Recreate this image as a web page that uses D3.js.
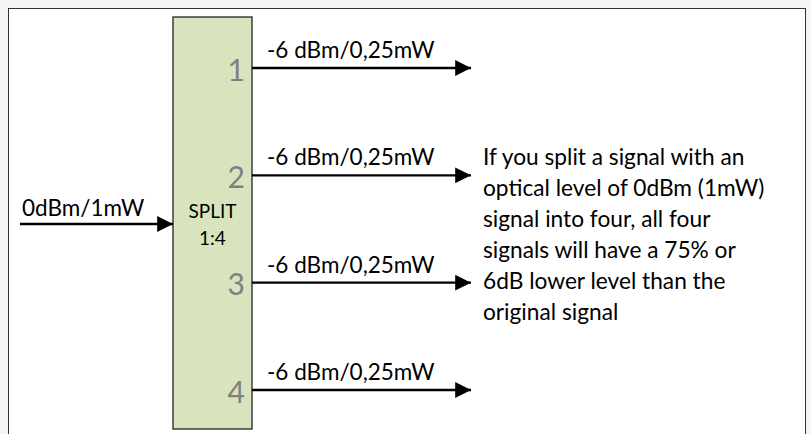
<!DOCTYPE html>
<html>
<head>
<meta charset="utf-8">
<script src="https://cdn.jsdelivr.net/npm/d3@7"></script>
<style>
  body { margin: 0; background: #f4f4f4; }
  text { font-family: Lato, "Open Sans", sans-serif; }
</style>
</head>
<body>
<script>
var ports = [1, 2, 3, 4];
var outLabels = ['-6 dBm/0,25mW', '-6 dBm/0,25mW', '-6 dBm/0,25mW', '-6 dBm/0,25mW'];
var inLabel = '0dBm/1mW';
var splitLabel = ['SPLIT', '1:4'];
var note = ['If you split a signal with an', 'optical level of 0dBm (1mW)', 'signal into four, all four',
            'signals will have a 75% or', '6dB lower level than the', 'original signal'];

var W = 811, H = 434;

var svg = d3.select('body').append('svg')
  .attr('width', W)
  .attr('height', H);

svg.append('defs').append('marker')
  .attr('id', 'arr')
  .attr('viewBox', '0 0 10 10')
  .attr('refX', 10).attr('refY', 5)
  .attr('markerWidth', 9.5).attr('markerHeight', 6.6)
  .attr('markerUnits', 'strokeWidth')
  .attr('orient', 'auto')
  .append('path').attr('d', 'M0,0L10,5L0,10Z').attr('fill', '#000');

// frame
svg.append('rect')
  .attr('x', 8.5).attr('y', 8.5)
  .attr('width', 797).attr('height', 440)
  .attr('fill', '#fff').attr('stroke', '#333').attr('stroke-width', 1);

var y = d3.scalePoint().domain(ports).range([68, 390]);
var box = {x0: 173, x1: 252, y0: 17, y1: 429};

svg.append('rect')
  .attr('x', box.x0).attr('y', box.y0)
  .attr('width', box.x1 - box.x0).attr('height', box.y1 - box.y0)
  .attr('fill', '#d7e4bd').attr('stroke', '#222').attr('stroke-width', 1.3);

// input
svg.append('line')
  .attr('x1', 20).attr('x2', box.x0)
  .attr('y1', 224).attr('y2', 224)
  .attr('stroke', '#000').attr('stroke-width', 2.4)
  .attr('marker-end', 'url(#arr)');
svg.append('text').attr('x', 22).attr('y', 216)
  .attr('font-size', 22.5).text(inLabel);

svg.selectAll('.split').data(splitLabel).enter().append('text')
  .attr('x', (box.x0 + box.x1) / 2)
  .attr('y', function(d, i){ return 218 + i * 27; })
  .attr('text-anchor', 'middle')
  .attr('font-size', 19)
  .text(function(d){ return d; });

// outputs
var g = svg.selectAll('.out').data(ports).enter().append('g');
g.append('line')
  .attr('x1', box.x1).attr('x2', 471)
  .attr('y1', function(d){ return y(d); }).attr('y2', function(d){ return y(d); })
  .attr('stroke', '#000').attr('stroke-width', 2.4)
  .attr('marker-end', 'url(#arr)');
g.append('text')
  .attr('x', 245).attr('y', function(d){ return y(d) + 12.5; })
  .attr('text-anchor', 'end')
  .attr('font-size', 30).attr('fill', '#808080')
  .text(function(d){ return d; });
g.append('text')
  .attr('x', 267).attr('y', function(d){ return y(d) - 10; })
  .attr('font-size', 22.5)
  .text(function(d, i){ return outLabels[i]; });

svg.selectAll('.note').data(note).enter().append('text')
  .attr('x', 483)
  .attr('y', function(d, i){ return 165 + i * 31; })
  .attr('font-size', 22.7)
  .text(function(d){ return d; });
</script>
</body>
</html>
